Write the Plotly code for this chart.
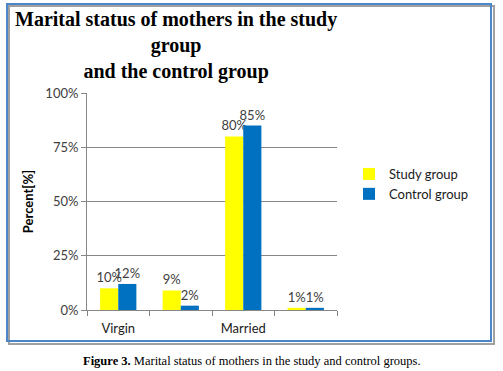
import plotly.graph_objects as go

categories = ["Virgin", "Divorced", "Married", "Widow"]
tick_labels = ["Virgin", "", "Married", ""]
study_group = [10, 9, 80, 1]
control_group = [12, 2, 85, 1]
y_ticks = [0, 25, 50, 75, 100]

W, H = 503, 371
L, R, T, B = 87, 337, 93, 310
pw, ph = R - L, B - T

def px_x(x):
    return (x - L) / pw

def px_y(y):
    return (B - y) / ph

xpos = list(range(len(categories)))
lab_font = dict(family="Lato", size=13, color="#404040")

fig = go.Figure()
fig.add_trace(go.Bar(
    x=xpos, y=study_group, name="Study group",
    marker=dict(color="#FFFF00", line=dict(width=0)),
    text=[f"{v}%" for v in study_group], textposition="outside",
    constraintext="none",
    textfont=lab_font, cliponaxis=False, hovertext=categories,
))
fig.add_trace(go.Bar(
    x=xpos, y=control_group, name="Control group",
    marker=dict(color="#0070C0", line=dict(width=0)),
    text=[f"{v}%" for v in control_group], textposition="outside",
    constraintext="none",
    textfont=lab_font, cliponaxis=False, hovertext=categories,
))

fig.update_layout(
    width=W, height=H,
    margin=dict(l=L, r=W - R, t=T, b=H - B, autoexpand=False),
    paper_bgcolor="white", plot_bgcolor="white",
    barmode="group", bargap=0.42, bargroupgap=0,
    showlegend=True,
    legend=dict(x=px_x(349), y=px_y(184), xanchor="left", yanchor="middle",
                font=dict(family="Lato", size=13, color="#202020"),
                bgcolor="rgba(0,0,0,0)", tracegroupgap=0, itemwidth=30),
    xaxis=dict(
        range=[-0.5, 3.5], tickmode="array", tickvals=xpos, ticktext=tick_labels,
        ticks="outside", ticklen=6, tickcolor="rgba(0,0,0,0)",
        tickfont=dict(family="Lato", size=13, color="#202020"),
        showline=True, linecolor="#868686", linewidth=1, showgrid=False,
        zeroline=False, fixedrange=True,
        minor=dict(tickmode="linear", tick0=-0.5, dtick=1, ticks="outside",
                   ticklen=5, tickcolor="#868686", showgrid=False),
    ),
    yaxis=dict(
        range=[0, 100], tickmode="array", tickvals=y_ticks,
        ticktext=[f"{v}%" for v in y_ticks],
        ticks="outside", ticklen=5, tickcolor="#868686",
        tickfont=dict(family="Lato", size=13, color="#404040"),
        showline=True, linecolor="#868686", linewidth=1,
        showgrid=True, gridcolor="#868686", gridwidth=1, zeroline=False,
        fixedrange=True,
        title=dict(text="<b>Percent[%]</b>", font=dict(family="Lato", size=13, color="black"), standoff=8),
    ),
    shapes=[
        dict(type="rect", xref="paper", yref="paper", layer="below",
             x0=px_x(9), x1=px_x(494), y0=px_y(344), y1=px_y(6),
             line=dict(color="#A0A0A0", width=2)),
        dict(type="rect", xref="paper", yref="paper", layer="below",
             x0=px_x(7), x1=px_x(491), y0=px_y(341), y1=px_y(4),
             line=dict(color="#4A86C8", width=2)),
    ],
    annotations=[
        dict(text="<b>Marital status of mothers in the study<br>group<br>and the control group</b>",
             xref="paper", yref="paper", x=px_x(176), y=px_y(6),
             xanchor="center", yanchor="top", align="center", showarrow=False,
             font=dict(family="Liberation Serif", size=20, color="black")),
        dict(text="<b>Figure 3.</b> Marital status of mothers in the study and control groups.",
             xref="paper", yref="paper", x=px_x(252), y=px_y(361),
             xanchor="center", yanchor="middle", showarrow=False,
             font=dict(family="Liberation Serif", size=12.5, color="black")),
    ],
)

fig.write_html("out.html", config={"displayModeBar": False},
               post_script="document.body.style.margin='0px';")
